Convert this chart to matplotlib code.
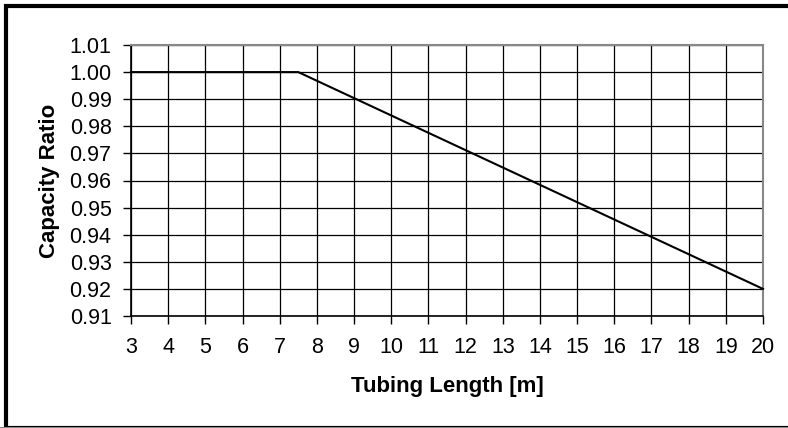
import matplotlib
matplotlib.use("Agg")
import matplotlib.pyplot as plt
from matplotlib.patches import Rectangle

# Capacity ratio vs. tubing length
tubing_length = [3, 7.5, 20]
capacity_ratio = [1.00, 1.00, 0.92]
x_ticks = list(range(3, 21))
y_ticks = [0.91, 0.92, 0.93, 0.94, 0.95, 0.96, 0.97, 0.98, 0.99, 1.00, 1.01]

plt.rcParams['font.family'] = ['Liberation Sans', 'DejaVu Sans']

W, H = 788, 428
fig = plt.figure(figsize=(W / 100, H / 100), dpi=100)
ax = fig.add_axes([131 / W, 1 - 316 / H, (763 - 131) / W, (316 - 45) / H])

ax.plot(tubing_length, capacity_ratio, color='black', lw=1.5, zorder=3,
        clip_on=False)

ax.set_xlim(3, 20)
ax.set_ylim(0.91, 1.01)
ax.set_xticks(x_ticks)
ax.set_yticks(y_ticks)
ax.set_yticklabels([f"{v:.2f}" for v in y_ticks])
ax.grid(True, color='black', lw=0.9)
ax.set_axisbelow(True)

for side in ('top', 'right'):
    ax.spines[side].set_color('#888888')
    ax.spines[side].set_linewidth(1.5)
for side in ('left', 'bottom'):
    ax.spines[side].set_color('black')
    ax.spines[side].set_linewidth(1.2)

ax.tick_params(axis='both', labelsize=15.5, length=6, width=1, color='black',
               direction='out')
ax.tick_params(axis='y', pad=8)
ax.tick_params(axis='x', pad=9)

ax.set_xlabel('Tubing Length [m]', fontsize=16, fontweight='bold',
              labelpad=13)
ax.set_ylabel('Capacity Ratio', fontsize=16, fontweight='bold',
              labelpad=7)

# Outer frame around the chart
fig.patches.append(Rectangle((6 / W, 0.5 / H), (W + 10) / W, (H - 6 - 0.5) / H,
                             transform=fig.transFigure, fill=False,
                             edgecolor='black', lw=3, clip_on=False))
fig.patches.append(Rectangle((0, 0), 1, 1 / H, transform=fig.transFigure,
                             facecolor='#888888', edgecolor='none'))

fig.savefig('out.png', dpi=100)
